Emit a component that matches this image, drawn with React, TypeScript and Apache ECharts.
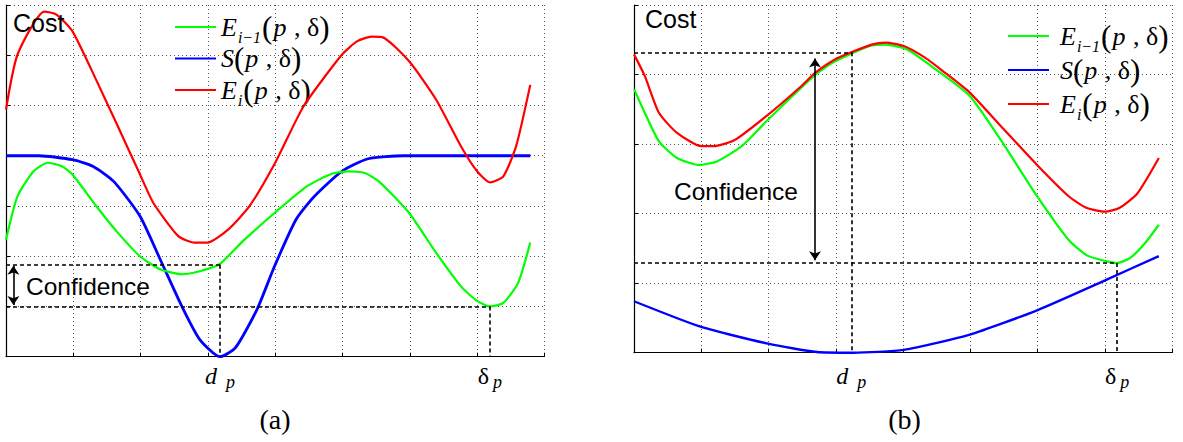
import React, { useEffect, useRef } from "react";
import * as echarts from "echarts";

// ---------- data (grid units) ----------
const NAME_PREV = "E_{i-1}(p,δ)";
const NAME_S = "S(p,δ)";
const NAME_CUR = "E_i(p,δ)";

// panel (a)
const aPrev: [number, number][] = [
  [0, 2.33], [0.17, 3.19], [0.41, 3.69], [0.62, 3.86], [0.83, 3.79], [0.99, 3.62],
  [1.34, 3.0], [1.66, 2.47], [1.99, 2.0], [2.29, 1.74], [2.61, 1.64], [2.88, 1.7],
  [3.18, 1.85], [3.52, 2.3], [3.99, 2.86], [4.47, 3.39], [4.84, 3.64], [5.08, 3.69],
  [5.32, 3.66], [5.54, 3.49], [5.99, 2.86], [6.39, 2.07], [6.76, 1.4], [7.0, 1.11],
  [7.19, 1.0], [7.39, 1.07], [7.61, 1.47], [7.79, 2.27],
];
const aS: [number, number][] = [
  [0, 4.0], [0.49, 4.0], [0.99, 3.92], [1.29, 3.79], [1.6, 3.49], [1.99, 2.8],
  [2.29, 1.94], [2.61, 1.01], [2.88, 0.34], [3.18, 0.0], [3.41, 0.18], [3.73, 0.94],
  [3.99, 1.8], [4.31, 2.73], [4.58, 3.19], [4.99, 3.69], [5.38, 3.94], [5.91, 4.0],
  [7.79, 4.0],
];
const aCur: [number, number][] = [
  [0, 4.92], [0.17, 6.01], [0.57, 6.87], [0.75, 6.81], [0.99, 6.47], [1.34, 5.51],
  [1.66, 4.59], [1.98, 3.66], [2.19, 3.06], [2.56, 2.4], [2.8, 2.27], [2.99, 2.27],
  [3.3, 2.53], [3.62, 3.0], [4.0, 3.86], [4.42, 4.98], [4.99, 6.01], [5.22, 6.28],
  [5.43, 6.37], [5.59, 6.36], [5.99, 5.88], [6.39, 5.12], [6.76, 4.19], [7.0, 3.69],
  [7.19, 3.47], [7.39, 3.59], [7.58, 4.19], [7.79, 5.41],
];
const aDp = 3.18;
const aDelta = 7.19;
const aHigh = 1.83;
const aLow = 1.0;
const aArrowX = 0.11;
const aArrowTop = 1.81;
const aArrowBottom = 1.03;

// panel (b)
const bPrev: [number, number][] = [
  [0, 3.79], [0.16, 3.45], [0.37, 3.04], [0.64, 2.8], [0.96, 2.7], [1.23, 2.75],
  [1.6, 2.97], [1.99, 3.35], [2.7, 4.0], [2.99, 4.19], [3.53, 4.42], [3.74, 4.43],
  [4.06, 4.36], [4.49, 4.07], [4.99, 3.69], [5.45, 3.06], [5.99, 2.25], [6.46, 1.62],
  [6.73, 1.4], [7.0, 1.32], [7.18, 1.29], [7.37, 1.36], [7.59, 1.57], [7.8, 1.84],
];
const bS: [number, number][] = [
  [0, 0.74], [1.0, 0.37], [1.99, 0.13], [2.72, 0.01], [3.26, 0.0], [4.01, 0.04],
  [4.99, 0.26], [5.99, 0.61], [7.0, 1.04], [7.8, 1.39],
];
const bCur: [number, number][] = [
  [0, 4.29], [0.16, 3.98], [0.37, 3.45], [0.64, 3.16], [1.0, 2.97], [1.18, 2.97],
  [1.5, 3.06], [1.99, 3.42], [2.46, 3.81], [2.7, 4.03], [2.99, 4.22], [3.23, 4.32],
  [3.53, 4.43], [3.74, 4.46], [4.01, 4.41], [4.33, 4.24], [4.59, 4.05], [4.99, 3.74],
  [5.45, 3.26], [5.99, 2.7], [6.46, 2.25], [6.73, 2.08], [7.0, 2.03], [7.21, 2.08],
  [7.48, 2.29], [7.8, 2.8],
];
const bDp = 3.23;
const bDelta = 7.18;
const bHigh = 4.32;
const bLow = 1.29;
const bArrowX = 2.69;
const bArrowTop = 4.23;
const bArrowBottom = 1.33;

const xMax = 8;
const aYMax = 7;
const bYMax = 5;
const captions = ["(a)", "(b)"];
const costLabel = "Cost";
const confidenceLabel = "Confidence";

// ---------- styles ----------
const SERIF = '"Liberation Serif", "Times New Roman", serif';
const SANS = '"Liberation Sans", Arial, Helvetica, sans-serif';
const GREEN = "#00ff00";
const BLUE = "#0000ff";
const RED = "#ff0000";

function legendRich(firstPad: number) {
  const L = 32;
  const P = 20;
  return {
    e0: { fontFamily: SERIF, fontSize: 26, fontStyle: "italic", color: "#000", lineHeight: L, padding: [0, 0, 0, firstPad] },
    e: { fontFamily: SERIF, fontSize: 26, fontStyle: "italic", color: "#000", lineHeight: L, padding: [0, 1, 0, 1] },
    m: { fontFamily: SERIF, fontSize: 26, color: "#000", lineHeight: L },
    pa: { fontFamily: SERIF, fontSize: 31, color: "#000", lineHeight: L },
    s: { fontFamily: SERIF, fontSize: 16, fontStyle: "italic", color: "#000", lineHeight: L - P, padding: [P, 1, 0, 1] },
  };
}

function legendFormatter(name: string) {
  if (name === NAME_PREV) return "{e0|E}{s|i−1}{pa|(}{e|p}{m| , δ}{pa|)}";
  if (name === NAME_S) return "{e0|S}{pa|(}{e|p}{m| , δ}{pa|)}";
  return "{e0|E}{s|i}{pa|(}{e|p}{m| , δ}{pa|)}";
}

const subRich = {
  d: { fontFamily: SERIF, fontSize: 24, fontStyle: "italic", color: "#000", lineHeight: 24 },
  g: { fontFamily: SERIF, fontSize: 24, color: "#000", lineHeight: 24 },
  pd: { fontFamily: SERIF, fontSize: 18, fontStyle: "italic", color: "#000", lineHeight: 12, padding: [12, 0, 0, 9] },
  pg: { fontFamily: SERIF, fontSize: 18, fontStyle: "italic", color: "#000", lineHeight: 12, padding: [12, 0, 0, 4] },
};

const dashStyle = { color: "#000", type: [4, 3] as number[], width: 1.6 };

function axisPair(gridIndex: number, yMax: number) {
  const common = {
    gridIndex,
    type: "value" as const,
    min: 0,
    interval: 1,
    axisLabel: { show: false },
    axisLine: { show: true, lineStyle: { color: "#000", width: 1.2 } },
    axisTick: { show: true, inside: true, length: 4, lineStyle: { color: "#000" } },
    splitLine: { show: true, lineStyle: { color: "#555", type: [1, 3], width: 1 } },
  };
  return {
    x: { ...common, max: xMax },
    y: { ...common, max: yMax },
  };
}

function panelSeries(
  idx: number,
  prev: [number, number][],
  s: [number, number][],
  cur: [number, number][],
  dp: number,
  delta: number,
  hi: number,
  lo: number,
  arrowX: number,
  arrowTop: number,
  arrowBottom: number,
  labelDist: number
) {
  const base = {
    type: "line" as const,
    xAxisIndex: idx,
    yAxisIndex: idx,
    showSymbol: false,
    symbol: "none",
    smooth: 0.2,
  };
  return [
    {
      ...base,
      name: NAME_PREV,
      data: prev,
      lineStyle: { color: GREEN, width: 2.2 },
      itemStyle: { color: GREEN },
      z: 3,
      markLine: {
        silent: true,
        symbol: "none",
        label: { show: false },
        lineStyle: dashStyle,
        data: [
          [{ coord: [0, hi] }, { coord: [dp, hi] }],
          [{ coord: [dp, hi] }, { coord: [dp, 0] }],
          [{ coord: [0, lo] }, { coord: [delta, lo] }],
          [{ coord: [delta, lo] }, { coord: [delta, 0] }],
        ],
      },
    },
    {
      ...base,
      name: NAME_S,
      data: s,
      lineStyle: { color: BLUE, width: idx === 0 ? 2.8 : 2.4 },
      itemStyle: { color: BLUE },
      z: 2,
      markPoint: {
        silent: true,
        symbol: "circle",
        symbolSize: 1,
        itemStyle: { color: "rgba(0,0,0,0)" },
        label: { show: true, position: "bottom", distance: labelDist, color: "#000", rich: subRich },
        data: [
          { coord: [dp, 0], label: { formatter: "{d|d}{pd|p}" } },
          { coord: [delta, 0], label: { formatter: "{g|δ}{pg|p}" } },
        ],
      },
    },
    {
      ...base,
      name: NAME_CUR,
      data: cur,
      lineStyle: { color: RED, width: 2.2 },
      itemStyle: { color: RED },
      z: 4,
      markLine: {
        silent: true,
        symbol: ["arrow", "arrow"],
        symbolSize: 9,
        label: { show: false },
        lineStyle: { color: "#000", type: "solid", width: 1.6 },
        data: [[{ coord: [arrowX, arrowTop] }, { coord: [arrowX, arrowBottom] }]],
      },
    },
  ];
}

export default function App() {
  const ref = useRef<HTMLDivElement>(null);
  useEffect(() => {
    document.body.style.margin = "0";
    if (!ref.current) return;
    const chart = echarts.init(ref.current, undefined, { renderer: "svg" });
    const ax = axisPair(0, aYMax);
    const bx = axisPair(1, bYMax);
    const legendBase = {
      orient: "vertical" as const,
      padding: 0,
      itemWidth: 41,
      itemHeight: 2,
      icon: "rect",
      selectedMode: false,
      data: [NAME_PREV, NAME_S, NAME_CUR],
      formatter: legendFormatter,
    };
    chart.setOption({
      animation: false,
      backgroundColor: "#fff",
      grid: [
        { left: 6, top: 5, width: 538.4, height: 351.7, containLabel: false },
        { left: 634, top: 5, width: 538.3, height: 347.7, containLabel: false },
      ],
      xAxis: [ax.x, bx.x],
      yAxis: [ax.y, bx.y],
      legend: [
        { ...legendBase, left: 175, top: 9, itemGap: -2, textStyle: { rich: legendRich(0) } },
        { ...legendBase, left: 1008, top: 18, itemGap: 0.5, textStyle: { rich: legendRich(6) } },
      ],
      series: [
        ...panelSeries(0, aPrev, aS, aCur, aDp, aDelta, aHigh, aLow, aArrowX, aArrowTop, aArrowBottom, 7),
        ...panelSeries(1, bPrev, bS, bCur, bDp, bDelta, bHigh, bLow, bArrowX, bArrowTop, bArrowBottom, 11),
      ],
      graphic: [
        { type: "text", x: 13, y: 23, z: 10, style: { text: costLabel, fill: "#000", fontFamily: SANS, fontSize: 25, verticalAlign: "middle", align: "left" } },
        { type: "text", x: 645, y: 18.5, z: 10, style: { text: costLabel, fill: "#000", fontFamily: SANS, fontSize: 25, verticalAlign: "middle", align: "left" } },
        { type: "text", x: 26, y: 286.5, z: 10, style: { text: confidenceLabel, fill: "#000", fontFamily: SANS, fontSize: 24.5, verticalAlign: "middle", align: "left" } },
        { type: "text", x: 674, y: 191, z: 10, style: { text: confidenceLabel, fill: "#000", fontFamily: SANS, fontSize: 24.5, verticalAlign: "middle", align: "left" } },
        { type: "text", x: 275, y: 419, z: 10, style: { text: captions[0], fill: "#000", fontFamily: SERIF, fontSize: 28, verticalAlign: "middle", align: "center" } },
        { type: "text", x: 904.5, y: 419, z: 10, style: { text: captions[1], fill: "#000", fontFamily: SERIF, fontSize: 28, verticalAlign: "middle", align: "center" } },
      ],
    });
    return () => chart.dispose();
  }, []);
  return <div ref={ref} style={{ width: 1183, height: 442 }} />;
}
